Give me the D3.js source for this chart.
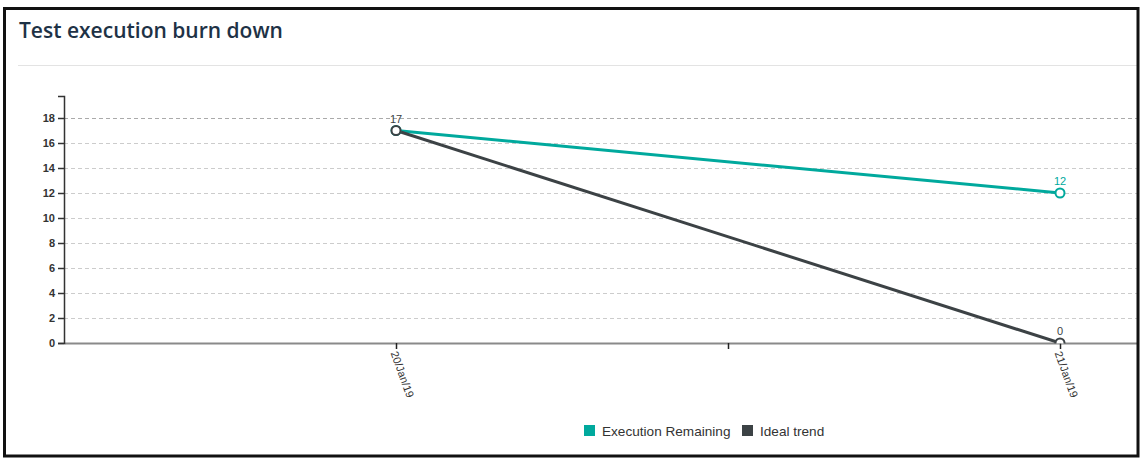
<!DOCTYPE html>
<html><head><meta charset="utf-8">
<script src="https://cdn.jsdelivr.net/npm/d3@7"></script>
<style>
html,body{margin:0;padding:0;background:#fff;}
svg{display:block;}
</style></head>
<body>
<svg id="c" width="1141" height="458"></svg>
<script>
const dates = ["2019-01-20", "2019-01-21"];
const dateLabels = ["20/Jan/19", "21/Jan/19"];
const executionRemaining = [17, 12];
const idealTrend = [17, 0];
const yTicks = [0, 2, 4, 6, 8, 10, 12, 14, 16, 18];
const seriesNames = ["Execution Remaining", "Ideal trend"];
const seriesColors = ["#00a99d", "#3c4245"];

const svg = d3.select("#c");
const W = 1141, H = 458;
svg.append("rect").attr("x",0).attr("y",0).attr("width",W).attr("height",H).attr("fill","#fff");

// title
svg.append("text").attr("x",19).attr("y",38).attr("font-family","'Open Sans', 'Noto Sans', sans-serif")
  .attr("font-size",21).attr("font-weight",600).attr("fill","#1e3246").text("Test execution burn down");
svg.append("line").attr("x1",18).attr("x2",1137).attr("y1",65.5).attr("y2",65.5).attr("stroke","#e3e3e3").attr("stroke-width",1);

const parse = d3.utcParse("%Y-%m-%d");
const d0 = parse(dates[0]);
const pts = dates.map(parse);
const x = d3.scaleUtc()
  .domain([d3.utcHour.offset(d0,-12), d3.utcHour.offset(pts[1], 12)])
  .range([64, 1392]);
const y = d3.scaleLinear().domain([0, 19.76]).range([343, 96]);

const labelByTime = new Map(pts.map((p,i)=>[+p, dateLabels[i]]));
const tickVals = [pts[0], d3.utcHour.offset(pts[0],12), pts[1]];

// clip
const defs = svg.append("defs");
defs.append("clipPath").attr("id","plotclip").append("rect").attr("x",60).attr("y",90).attr("width",1077).attr("height",253.5);
defs.append("clipPath").attr("id","innerclip").append("rect").attr("x",0).attr("y",0).attr("width",1137).attr("height",H);

const g = svg.append("g").attr("clip-path","url(#innerclip)");

// grid
g.append("g").selectAll("line").data(yTicks.filter(v=>v>0)).join("line")
  .attr("x1",64).attr("x2",1137).attr("y1",d=>Math.round(y(d))+0.5).attr("y2",d=>Math.round(y(d))+0.5)
  .attr("stroke",d=>d===18?"#aaa":"#ccc").attr("stroke-width",1).attr("stroke-dasharray","4,3");

// x axis
const xAxis = g.append("g").attr("transform","translate(0,343)")
  .call(d3.axisBottom(x).tickValues(tickVals).tickSize(6).tickSizeOuter(0).tickFormat(d=>labelByTime.get(+d)||""));
xAxis.select(".domain").attr("stroke","#8a8a8a").attr("stroke-width",2);
xAxis.selectAll(".tick line").attr("stroke","#222").attr("stroke-width",1.5);
xAxis.selectAll(".tick text").attr("font-family","Arial, 'Liberation Sans', sans-serif").attr("font-size",11).attr("fill","#333")
  .attr("text-anchor","start").attr("dy",0).attr("y",0)
  .attr("transform","translate(-6,10) rotate(70)");

// y axis
const yAxis = svg.append("g").attr("transform","translate(64,0)")
  .call(d3.axisLeft(y).tickValues(yTicks).tickSize(6).tickSizeOuter(6).tickFormat(d3.format("d")));
yAxis.select(".domain").attr("stroke","#333").attr("stroke-width",1.5);
yAxis.selectAll(".tick line").attr("stroke","#333").attr("stroke-width",1.5);
yAxis.selectAll(".tick text").attr("font-family","Arial, 'Liberation Sans', sans-serif").attr("font-size",11)
  .attr("font-weight","bold").attr("fill","#333").attr("x",-9);

// series
const series = [executionRemaining, idealTrend];
const plot = svg.append("g").attr("clip-path","url(#plotclip)");
const line = d3.line().x((d,i)=>x(pts[i])).y(d=>y(d));
series.forEach((vals,si)=>{
  plot.append("path").datum(vals).attr("d",line).attr("fill","none").attr("stroke",seriesColors[si]).attr("stroke-width",3);
});
series.forEach((vals,si)=>{
  plot.append("g").selectAll("circle").data(vals).join("circle")
    .attr("cx",(d,i)=>x(pts[i])).attr("cy",d=>y(d)).attr("r",4.5)
    .attr("fill","#fff").attr("stroke",seriesColors[si]).attr("stroke-width",2);
});
// value labels (the shared first point shows only one label)
const labelColors = ["#00a99d", "#3a3f44"];
series.forEach((vals,si)=>{
  const items = vals.map((v,i)=>({v, i})).filter(o=>!(si===0 && o.i===0));
  svg.append("g").selectAll("text").data(items).join("text")
    .attr("x",o=>x(pts[o.i])).attr("y",o=>y(o.v)-8).attr("text-anchor","middle")
    .attr("font-family","Arial, 'Liberation Sans', sans-serif").attr("font-size",11)
    .attr("fill",labelColors[si]).text(o=>o.v);
});

// legend
const leg = svg.append("g").attr("font-family","Arial, 'Liberation Sans', sans-serif").attr("font-size",13.6).attr("fill","#333");
const legX = [584, 742];
seriesNames.forEach((n,i)=>{
  leg.append("rect").attr("x",legX[i]).attr("y",425).attr("width",11).attr("height",11).attr("fill",seriesColors[i]);
  leg.append("text").attr("x",legX[i]+18).attr("y",436).text(n);
});

// outer border
svg.append("rect").attr("x",4.5).attr("y",8.5).attr("width",1133.5).attr("height",447.5)
  .attr("fill","none").attr("stroke","#111").attr("stroke-width",3);
</script>
</body></html>
